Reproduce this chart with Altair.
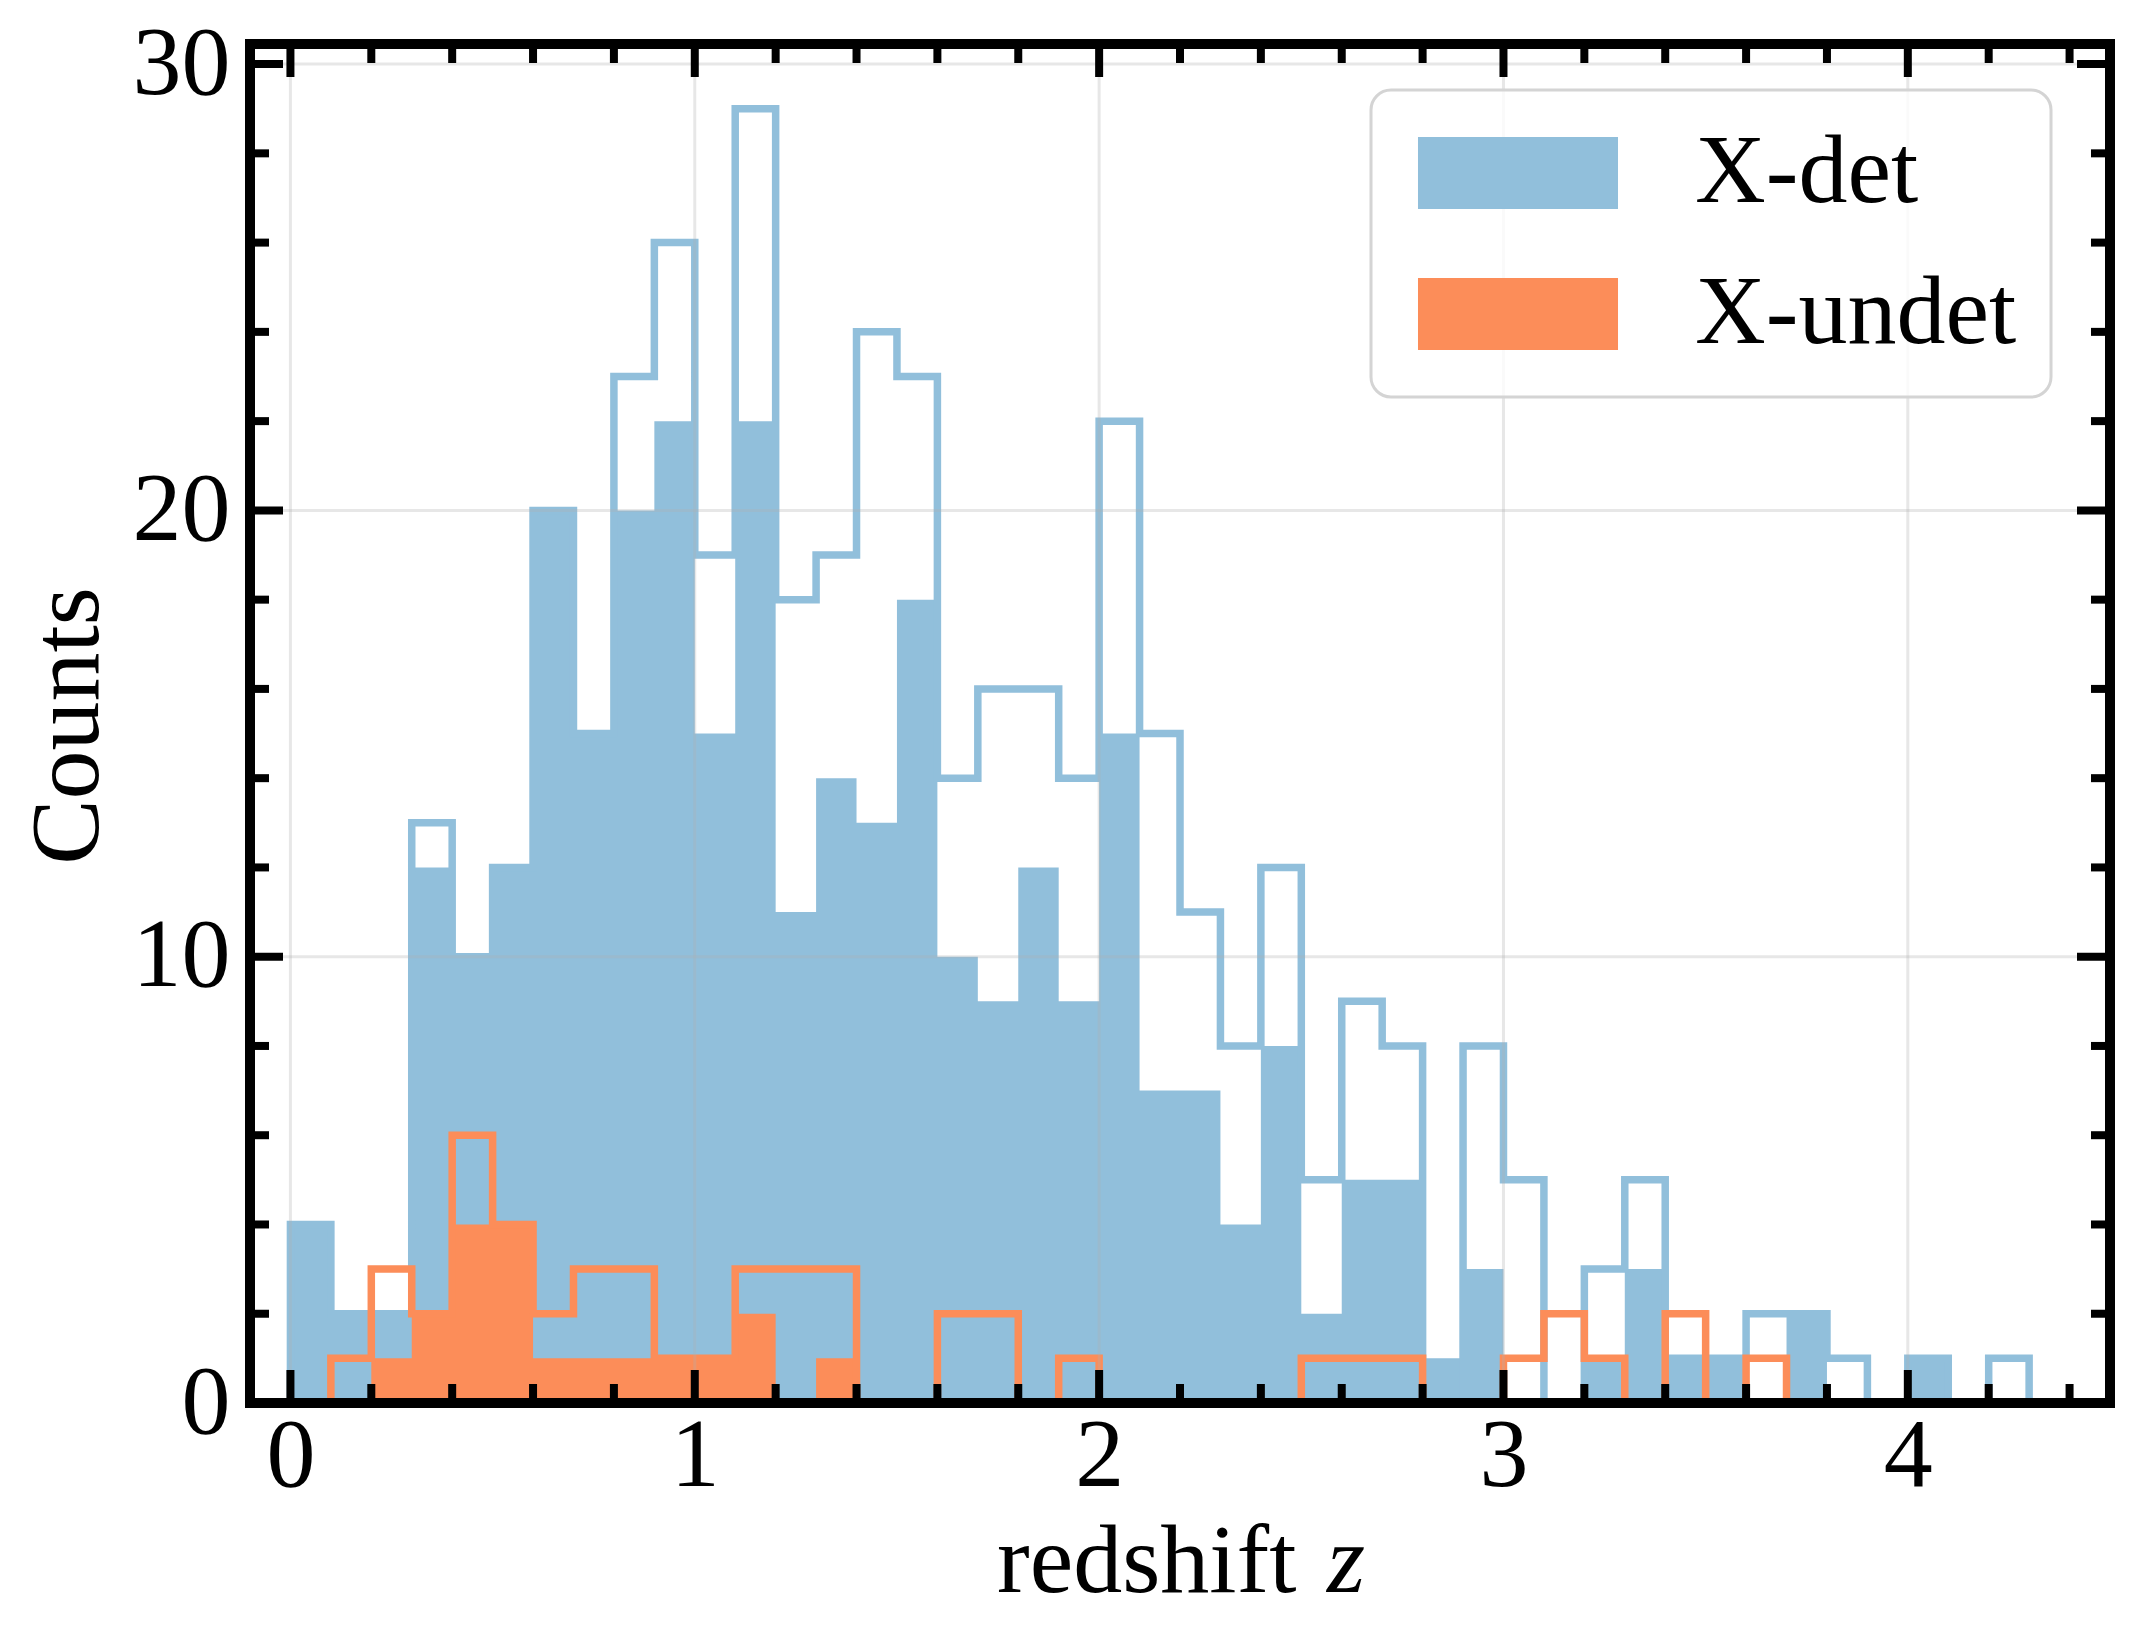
import altair as alt
import pandas as pd

# ---------------- data ----------------
BIN_EDGES = [0.0, 0.1, 0.2, 0.3, 0.4, 0.5, 0.6, 0.7, 0.8, 0.9,
             1.0, 1.1, 1.2, 1.3, 1.4, 1.5, 1.6, 1.7, 1.8, 1.9,
             2.0, 2.1, 2.2, 2.3, 2.4, 2.5, 2.6, 2.7, 2.8, 2.9,
             3.0, 3.1, 3.2, 3.3, 3.4, 3.5, 3.6, 3.7, 3.8, 3.9,
             4.0, 4.1, 4.2, 4.3]

XDET_FILLED = [4, 2, 2, 12, 10, 12, 20, 15, 20, 22,
               15, 22, 11, 14, 13, 18, 10, 9, 12, 9,
               15, 7, 7, 4, 8, 2, 5, 5, 1, 3,
               0, 0, 1, 3, 1, 1, 0, 2, 0, 0,
               1, 0, 0]
XDET_STEP = [4, 2, 2, 13, 10, 12, 20, 15, 23, 26,
             19, 29, 18, 19, 24, 23, 14, 16, 16, 14,
             22, 15, 11, 8, 12, 5, 9, 8, 0, 8,
             5, 0, 3, 5, 1, 1, 2, 2, 1, 0,
             1, 0, 1]
XUNDET_FILLED = [0, 0, 1, 2, 4, 4, 1, 1, 1, 1,
                 1, 2, 0, 1, 0, 0, 0, 0, 0, 0,
                 0, 0, 0, 0, 0, 0, 0, 0, 0, 0,
                 0, 0, 0, 0, 0, 0, 0, 0, 0, 0,
                 0, 0, 0]
XUNDET_STEP = [0, 1, 3, 2, 6, 4, 2, 3, 3, 1,
               1, 3, 3, 3, 0, 0, 2, 2, 0, 1,
               0, 0, 0, 0, 0, 1, 1, 1, 0, 0,
               1, 2, 1, 0, 2, 0, 1, 0, 0, 0,
               0, 0, 0]

SERIES = ["X-det", "X-undet"]
BLUE = "#91bfdb"
ORANGE = "#fc8d59"

X_MAJOR = [0, 1, 2, 3, 4]
X_MINOR = [0.2, 0.4, 0.6, 0.8, 1.2, 1.4, 1.6, 1.8, 2.2, 2.4, 2.6, 2.8,
           3.2, 3.4, 3.6, 3.8, 4.2, 4.4]
Y_MAJOR = [0, 10, 20, 30]
Y_MINOR = [2, 4, 6, 8, 12, 14, 16, 18, 22, 24, 26, 28]

X_DOMAIN = [-0.1, 4.5]
Y_DOMAIN = [0, 30.45]

# ---------------- layout ----------------
W, H = 1860, 1359
FONT = "Liberation Serif"
FS = 98
MAJ, MIN, TW = 33, 19, 8


def fill_table(counts, name):
    xs = BIN_EDGES[:len(counts)] + [BIN_EDGES[len(counts)]]
    ys = list(counts) + [counts[-1]]
    return pd.DataFrame({"x": xs, "y": ys, "series": name})


def step_table(counts):
    xs = [BIN_EDGES[0]] + BIN_EDGES[:len(counts)] + [BIN_EDGES[len(counts)]]
    ys = [0] + list(counts) + [0]
    return pd.DataFrame({"x": xs, "y": ys, "i": list(range(len(xs)))})


xs = alt.Scale(domain=X_DOMAIN, nice=False, zero=False)
ys = alt.Scale(domain=Y_DOMAIN, nice=False, zero=False)
xa = alt.Axis(title=None, values=X_MAJOR, format="d", grid=False, ticks=False,
              tickSize=0, domain=False, labelFont=FONT, labelFontSize=FS,
              labelColor="black", labelPadding=82, labelBaseline="alphabetic")
ya = alt.Axis(title=None, values=Y_MAJOR, format="d", grid=False, ticks=False,
              tickSize=0, domain=False, labelFont=FONT, labelFontSize=FS,
              labelColor="black", labelPadding=20)

color = alt.Color(
    "series:N",
    scale=alt.Scale(domain=SERIES, range=[BLUE, ORANGE]),
    legend=alt.Legend(
        title=None, orient="none", legendX=1121, legendY=46,
        symbolType="M-2.778,-1H2.778V1H-2.778Z", symbolSize=5184,
        symbolOffset=64, symbolStrokeWidth=0, symbolOpacity=1,
        labelFont=FONT, labelFontSize=FS, labelColor="black", labelOffset=128,
        rowPadding=43, padding=34, cornerRadius=20,
        strokeColor="#d4d4d4", fillColor="rgba(255,255,255,0.8)",
        labelLimit=1000,
    ),
)


def fill_layer(counts, name):
    return alt.Chart(fill_table(counts, name)).mark_area(
        interpolate="step-after", opacity=1
    ).encode(
        x=alt.X("x:Q", scale=xs, axis=xa),
        y=alt.Y("y:Q", scale=ys, axis=ya),
        y2=alt.datum(0),
        color=color,
    )


def step_layer(counts, col):
    return alt.Chart(step_table(counts)).mark_line(
        interpolate="step-after", color=col, strokeWidth=7.5,
        strokeJoin="miter", strokeCap="butt"
    ).encode(
        x=alt.X("x:Q", scale=xs, axis=xa),
        y=alt.Y("y:Q", scale=ys, axis=ya),
        order=alt.Order("i:Q"),
    )


grid_x = alt.Chart(pd.DataFrame({"x": X_MAJOR})).mark_rule(
    color="#b0b0b0", opacity=0.3, strokeWidth=3
).encode(x=alt.X("x:Q", scale=xs, axis=xa), y=alt.value(0), y2=alt.value(H))
grid_y = alt.Chart(pd.DataFrame({"y": Y_MAJOR})).mark_rule(
    color="#b0b0b0", opacity=0.3, strokeWidth=3
).encode(y=alt.Y("y:Q", scale=ys, axis=ya), x=alt.value(0), x2=alt.value(W))


def xticks(vals, length):
    d = pd.DataFrame({"x": vals})
    bot = alt.Chart(d).mark_rule(color="black", strokeWidth=TW).encode(
        x=alt.X("x:Q", scale=xs, axis=xa), y=alt.value(H), y2=alt.value(H - length))
    top = alt.Chart(d).mark_rule(color="black", strokeWidth=TW).encode(
        x=alt.X("x:Q", scale=xs, axis=xa), y=alt.value(0), y2=alt.value(length))
    return [bot, top]


def yticks(vals, length):
    d = pd.DataFrame({"y": vals})
    left = alt.Chart(d).mark_rule(color="black", strokeWidth=TW).encode(
        y=alt.Y("y:Q", scale=ys, axis=ya), x=alt.value(0), x2=alt.value(length))
    right = alt.Chart(d).mark_rule(color="black", strokeWidth=TW).encode(
        y=alt.Y("y:Q", scale=ys, axis=ya), x=alt.value(W), x2=alt.value(W - length))
    return [left, right]


one = pd.DataFrame({"k": [0]})
frame = [
    alt.Chart(one).mark_rule(color="black", strokeWidth=10, strokeCap="square").encode(
        x=alt.value(0), y=alt.value(0), y2=alt.value(H)),
    alt.Chart(one).mark_rule(color="black", strokeWidth=10, strokeCap="square").encode(
        x=alt.value(W), y=alt.value(0), y2=alt.value(H)),
    alt.Chart(one).mark_rule(color="black", strokeWidth=10, strokeCap="square").encode(
        y=alt.value(0), x=alt.value(0), x2=alt.value(W)),
    alt.Chart(one).mark_rule(color="black", strokeWidth=10, strokeCap="square").encode(
        y=alt.value(H), x=alt.value(0), x2=alt.value(W)),
]

xtitle_a = alt.Chart(pd.DataFrame({"t": ["redshift"]})).mark_text(
    font=FONT, fontSize=FS, align="left", baseline="alphabetic", color="black"
).encode(text="t:N", x=alt.value(747), y=alt.value(1548))
xtitle_b = alt.Chart(pd.DataFrame({"t": ["z"]})).mark_text(
    font=FONT, fontSize=FS, fontStyle="italic", align="left",
    baseline="alphabetic", color="black"
).encode(text="t:N", x=alt.value(1077), y=alt.value(1548))
ytitle = alt.Chart(pd.DataFrame({"t": ["Counts"]})).mark_text(
    font=FONT, fontSize=FS, angle=270, align="center",
    baseline="alphabetic", color="black"
).encode(text="t:N", x=alt.value(-152), y=alt.value(682))

layers = [
    fill_layer(XDET_FILLED, "X-det"),
    step_layer(XDET_STEP, BLUE),
    fill_layer(XUNDET_FILLED, "X-undet"),
    step_layer(XUNDET_STEP, ORANGE),
    grid_x, grid_y,
] + xticks(X_MAJOR, MAJ) + xticks(X_MINOR, MIN) + yticks(Y_MAJOR, MAJ) + \
    yticks(Y_MINOR, MIN) + frame + [xtitle_a, xtitle_b, ytitle]

chart = alt.layer(*layers).properties(
    width=W, height=H,
    autosize=alt.AutoSizeParams(type="none"),
    padding={"left": 242, "top": 36, "right": 21, "bottom": 235},
).configure_view(stroke=None).configure_legend(strokeWidth=3)

chart.save("out.html", embed_options={"renderer": "svg", "actions": False})
